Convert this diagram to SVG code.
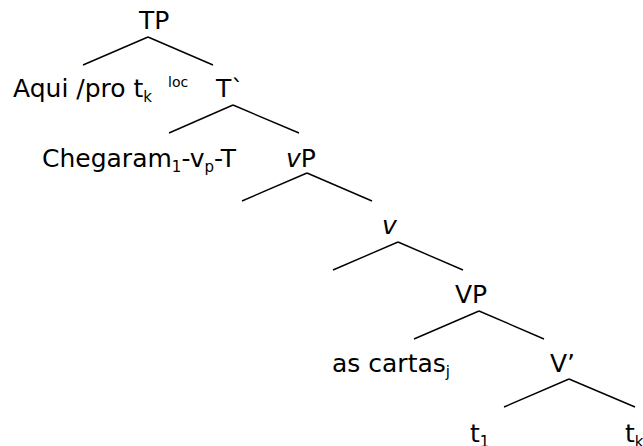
<svg xmlns="http://www.w3.org/2000/svg" width="643" height="446" viewBox="0 0 643 446">
<style>
text{font-family:"DejaVu Sans",Verdana,sans-serif;font-size:25px;fill:#000}
.sub{font-size:15px}
.sup{font-size:14px}
.conn line{stroke:#000;stroke-width:1.4;fill:none}
</style>
<rect width="643" height="446" fill="#fff"/>
<g class="conn" id="connectors">
<line x1="148" y1="37" x2="83" y2="65"/>
<line x1="148" y1="37" x2="213" y2="65"/>
<line x1="233" y1="105" x2="169" y2="133"/>
<line x1="233" y1="105" x2="299" y2="133"/>
<line x1="307" y1="173" x2="242" y2="201"/>
<line x1="307" y1="173" x2="372" y2="201"/>
<line x1="398" y1="242" x2="333" y2="270"/>
<line x1="398" y1="242" x2="463" y2="270"/>
<line x1="479" y1="311" x2="414" y2="339"/>
<line x1="479" y1="311" x2="544" y2="339"/>
<line x1="569" y1="379" x2="504" y2="407"/>
<line x1="569" y1="379" x2="635" y2="407"/>
</g>
<g id="TP"><text x="139" y="29">TP</text></g>
<g id="Aqui"><text x="13" y="97">Aqui /pro t<tspan class="sub" dy="5">k</tspan></text><text class="sup" x="168" y="87">loc</text></g>
<g id="Tbar"><text x="216" y="97">T`</text></g>
<g id="Chegaram"><text x="42" y="167">Chegaram<tspan class="sub" dy="5">1</tspan><tspan dy="-5">-v</tspan><tspan class="sub" dy="5">p</tspan><tspan dy="-5">-T</tspan></text></g>
<g id="vP"><text x="286" y="167"><tspan font-style="italic">v</tspan>P</text></g>
<g id="vbar"><text x="382" y="234" font-style="italic">v</text></g>
<g id="VP"><text x="455" y="303">VP</text></g>
<g id="ascartas"><text x="332" y="372">as cartas<tspan class="sub" dy="5">j</tspan></text></g>
<g id="Vbar"><text x="550" y="372">V’</text></g>
<g id="t1"><text x="470" y="442">t<tspan class="sub" dy="5">1</tspan></text></g>
<g id="tk"><text x="625" y="442">t<tspan class="sub" dy="5">k</tspan></text></g>
</svg>
